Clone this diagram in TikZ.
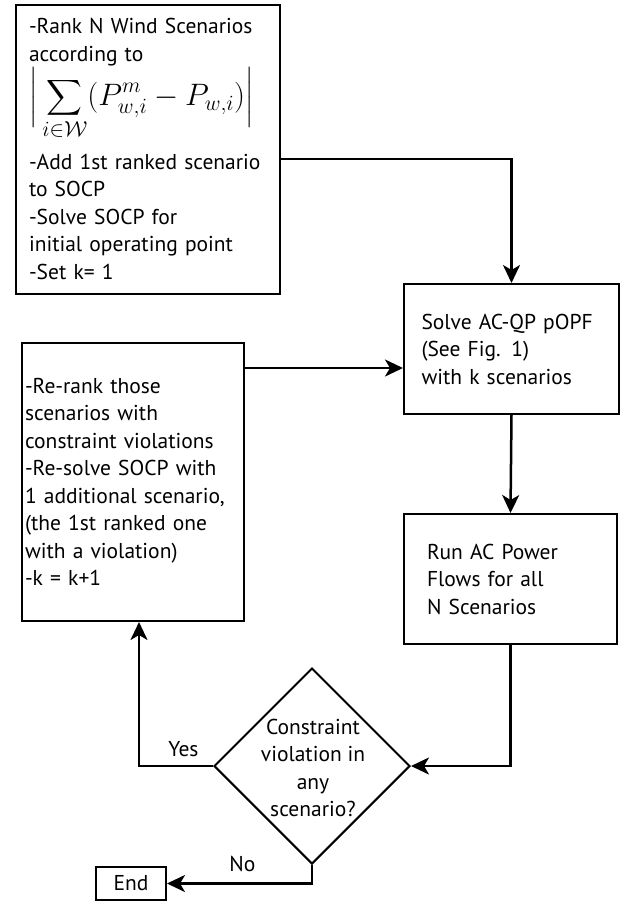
\RequirePackage{fix-cm}
\documentclass[tikz,border=0pt]{standalone}
\usepackage{amsmath}
\usepackage{fontspec}
\setmainfont{PT Sans}
\usetikzlibrary{shapes.geometric,arrows.meta}
\begin{document}
\begin{tikzpicture}[x=1pt,y=-1pt,
    txt/.style={font=\fontsize{21.5}{27.5}\selectfont},
    box/.style={txt,draw,line width=2pt,align=left,inner sep=0pt},
    decision/.style={draw,diamond,line width=2pt,minimum width=196pt,minimum height=196pt,inner sep=0pt},
    flow/.style={line width=2.5pt,-{Stealth[length=18pt,width=17pt,inset=5pt]}}]
  \useasboundingbox (0,0) rectangle (629,903);
  \node[box,minimum width=264pt,minimum height=289pt,text width=238pt] (rank) at (148,149)
    {-Rank N Wind Scenarios\\ according to\\[1pt]
     {\fontsize{31}{31}\selectfont$\displaystyle\Big|\sum_{i\in\mathcal{W}}(P^m_{w,i}-P_{w,i})\Big|$}\\[13pt]
     -Add 1st ranked scenario\\ to SOCP\\ -Solve SOCP for\\ initial operating point\\ -Set k= 1};
  \node[box,minimum width=215pt,minimum height=130pt,text width=180pt] (solve) at (511.5,349)
    {Solve AC-QP pOPF\\ (See Fig. 1)\\ with k scenarios};
  \node[box,minimum width=213pt,minimum height=130pt,text width=167pt] (run) at (510.5,579)
    {Run AC Power\\ Flows for all\\ N Scenarios};
  \node[box,minimum width=222pt,minimum height=278pt,text width=216pt] (rerank) at (133,482)
    {-Re-rank those\\ scenarios with\\ constraint violations\\ -Re-solve SOCP with\\
     1 additional scenario,\\ (the 1st ranked one\\ with a violation)\\ -k = k+1};
  \node[decision] (check) at (312,766) {};
  \node[txt,align=center] (checktext) at (313,768) {Constraint\\ violation in\\ any\\ scenario?};
  \node[box,minimum width=70pt,minimum height=33pt,align=center] (done) at (131,883.5) {End};
  \draw[flow] ([yshift=-10pt]rank.east) -| (solve.north);
  \draw[flow] ([yshift=114pt]rerank.east) -- ([yshift=-19pt]solve.west);
  \draw[flow] (solve.south) -- (run.north);
  \draw[flow] (run.south) |- (check.east);
  \draw[flow] (check.west) -| ([xshift=6pt]rerank.south)
    node[txt,pos=0.2,above=5pt] (yes) {Yes};
  \draw[flow] (check.south) |- (done.east)
    node[txt,pos=0.74,above=7pt] (no) {No};
\end{tikzpicture}
\end{document}
